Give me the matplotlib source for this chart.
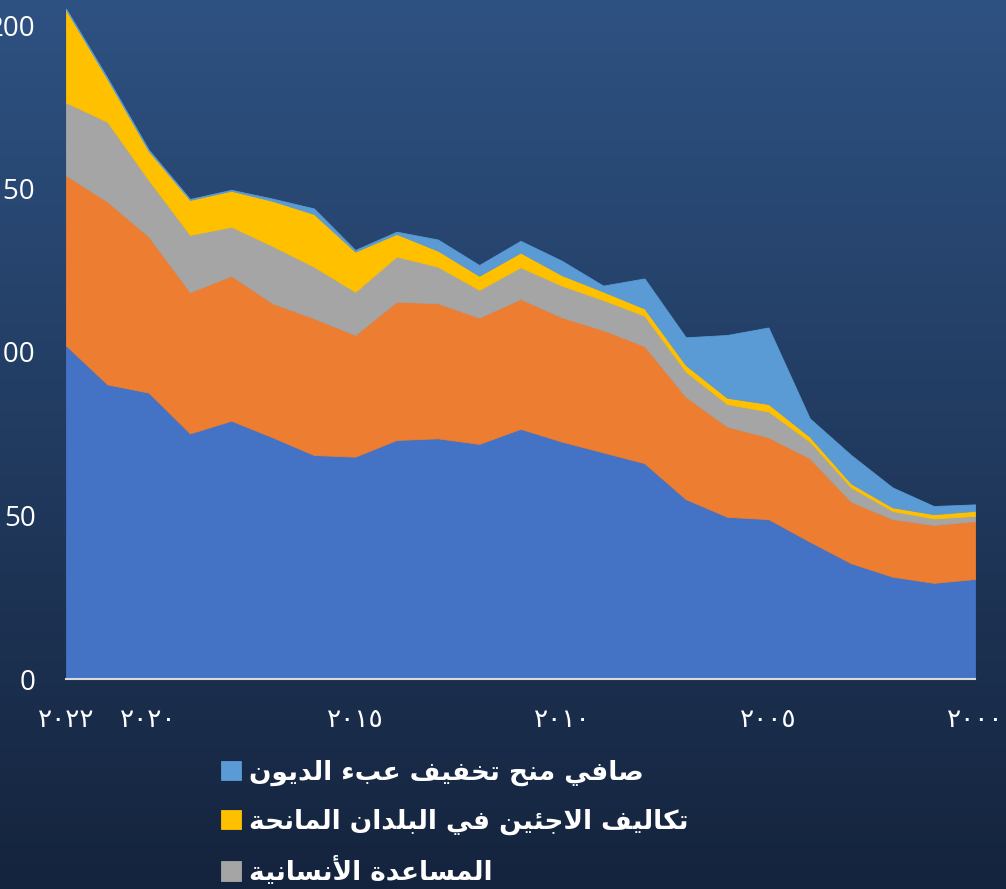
import matplotlib
matplotlib.use('Agg')
import matplotlib.pyplot as plt
import numpy as np

# ---------------- data ----------------
years = list(range(2022, 1999, -1))
core_oda = [102.0, 90.1, 87.6, 75.1, 79.0, 73.9, 68.5, 68.0, 73.1, 73.6, 71.9, 76.5,
            72.6, 69.3, 66.0, 55.0, 49.6, 48.9, 42.0, 35.4, 31.3, 29.4, 30.6]
multilateral = [52.0, 55.9, 47.7, 43.2, 44.3, 41.0, 41.8, 37.2, 42.3, 41.3, 38.6, 39.7,
                38.0, 37.4, 35.8, 31.3, 27.6, 25.0, 25.5, 18.8, 17.6, 17.7, 17.7]
humanitarian = [22.3, 24.4, 17.3, 17.5, 15.0, 17.5, 15.8, 13.2, 13.8, 11.2, 8.5, 9.7,
                9.7, 9.2, 9.3, 7.7, 6.9, 7.9, 5.1, 4.4, 2.5, 2.0, 1.6]
refugee = [28.4, 13.1, 8.9, 10.7, 11.0, 13.8, 16.1, 12.3, 6.9, 4.9, 4.3, 4.5,
           3.2, 2.6, 2.2, 2.0, 1.9, 2.3, 1.5, 1.2, 1.1, 1.3, 1.5]
debt_relief = [0.3, 0.4, 0.4, 0.3, 0.3, 0.7, 1.7, 0.5, 0.7, 3.4, 3.3, 3.6,
               4.4, 1.8, 9.2, 8.5, 19.2, 23.4, 5.6, 8.7, 6.1, 2.5, 2.0]

xtick_years = [2022, 2020, 2015, 2010, 2005, 2000]
xtick_labels = ['٢٠٢٢', '٢٠٢٠', '٢٠١٥', '٢٠١٠', '٢٠٠٥', '٢٠٠٠']
ytick_values = [0, 50, 100, 150, 200]

label_debt = 'صافي منح تخفيف عبء الديون'
label_refugee = 'تكاليف الاجئين في البلدان المانحة'
label_human = 'المساعدة الأنسانية'

colors = ['#4472C4', '#ED7D31', '#A5A5A5', '#FFC000', '#5B9BD5']

# ---------------- minimal Arabic shaping ----------------
FORMS = {
    '\u0621': ('\uFE80', None, None, None),
    '\u0623': ('\uFE83', '\uFE84', None, None),
    '\u0626': ('\uFE89', '\uFE8A', '\uFE8B', '\uFE8C'),
    '\u0627': ('\uFE8D', '\uFE8E', None, None),
    '\u0628': ('\uFE8F', '\uFE90', '\uFE91', '\uFE92'),
    '\u0629': ('\uFE93', '\uFE94', None, None),
    '\u062A': ('\uFE95', '\uFE96', '\uFE97', '\uFE98'),
    '\u062C': ('\uFE9D', '\uFE9E', '\uFE9F', '\uFEA0'),
    '\u062D': ('\uFEA1', '\uFEA2', '\uFEA3', '\uFEA4'),
    '\u062E': ('\uFEA5', '\uFEA6', '\uFEA7', '\uFEA8'),
    '\u062F': ('\uFEA9', '\uFEAA', None, None),
    '\u0633': ('\uFEB1', '\uFEB2', '\uFEB3', '\uFEB4'),
    '\u0635': ('\uFEB9', '\uFEBA', '\uFEBB', '\uFEBC'),
    '\u0639': ('\uFEC9', '\uFECA', '\uFECB', '\uFECC'),
    '\u0641': ('\uFED1', '\uFED2', '\uFED3', '\uFED4'),
    '\u0643': ('\uFED9', '\uFEDA', '\uFEDB', '\uFEDC'),
    '\u0644': ('\uFEDD', '\uFEDE', '\uFEDF', '\uFEE0'),
    '\u0645': ('\uFEE1', '\uFEE2', '\uFEE3', '\uFEE4'),
    '\u0646': ('\uFEE5', '\uFEE6', '\uFEE7', '\uFEE8'),
    '\u0648': ('\uFEED', '\uFEEE', None, None),
    '\u064A': ('\uFEF1', '\uFEF2', '\uFEF3', '\uFEF4'),
}
LAM_ALEF = {'\u0627': ('\uFEFB', '\uFEFC', None, None),
            '\u0623': ('\uFEF7', '\uFEF8', None, None)}


def shape_arabic(text):
    items = []
    i = 0
    while i < len(text):
        c = text[i]
        if c == '\u0644' and i + 1 < len(text) and text[i + 1] in LAM_ALEF:
            items.append(LAM_ALEF[text[i + 1]])
            i += 2
        else:
            items.append(FORMS.get(c, c))
            i += 1
    out = []
    for j, it in enumerate(items):
        if isinstance(it, str):
            out.append(it)
            continue
        prev = items[j - 1] if j > 0 else None
        nxt = items[j + 1] if j + 1 < len(items) else None
        jp = it[1] is not None and isinstance(prev, tuple) and prev[2] is not None
        jn = it[2] is not None and isinstance(nxt, tuple) and nxt[1] is not None
        if jp and jn:
            out.append(it[3])
        elif jp:
            out.append(it[1])
        elif jn:
            out.append(it[2])
        else:
            out.append(it[0])
    return ''.join(out)[::-1]


# ---------------- figure ----------------
W, H = 1006, 889
fig = plt.figure(figsize=(W / 100, H / 100), dpi=100)

# background gradient
bg = fig.add_axes([0, 0, 1, 1], zorder=-10)
top = np.array([0.18, 0.32, 0.51])
bot = np.array([0.08, 0.14, 0.24])
t = np.linspace(0, 1, 256)[:, None]
grad = top[None, :] * (1 - t) + bot[None, :] * t
grad = np.repeat(grad[:, None, :], 2, axis=1)
bg.imshow(grad, aspect='auto', extent=[0, 1, 0, 1])
bg.axis('off')

x0, x1 = 66, 975
y_zero = 679
ppu = 3.27
ytop = y_zero / ppu
ax = fig.add_axes([x0 / W, (H - y_zero) / H, (x1 - x0) / W, y_zero / H])
ax.set_facecolor('none')

polys = ax.stackplot(years, core_oda, multilateral, humanitarian, refugee, debt_relief,
                     colors=colors, linewidth=0.6)
for p, c in zip(polys, colors):
    p.set_edgecolor(c)

ax.set_xlim(2022, 2000)
ax.set_ylim(0, ytop)

ax.set_xticks(xtick_years)
ax.set_xticklabels(xtick_labels, fontsize=19, color='white', family='DejaVu Sans')
ax.set_yticks(ytick_values)
ax.set_yticklabels([str(v) for v in ytick_values], fontsize=20, color='white',
                   family='Open Sans')
ax.tick_params(axis='both', length=0)
ax.tick_params(axis='y', pad=22)
ax.tick_params(axis='x', pad=20)

for s in ['top', 'right', 'left']:
    ax.spines[s].set_visible(False)
ax.spines['bottom'].set_color('#D9D9D9')
ax.spines['bottom'].set_linewidth(1.5)

handles = [polys[4], polys[3], polys[2]]
labels = [shape_arabic(label_debt), shape_arabic(label_refugee), shape_arabic(label_human)]
leg = fig.legend(handles, labels, loc='upper left',
                 bbox_to_anchor=(221 / W, 1 - 760 / H),
                 frameon=False, prop={'family': 'DejaVu Sans', 'weight': 'bold', 'size': 19},
                 handlelength=0.75, handleheight=0.75, handletextpad=0.3,
                 labelspacing=0.85, borderpad=0, borderaxespad=0)
for txt in leg.get_texts():
    txt.set_color('white')

fig.savefig('out.png', dpi=100)
